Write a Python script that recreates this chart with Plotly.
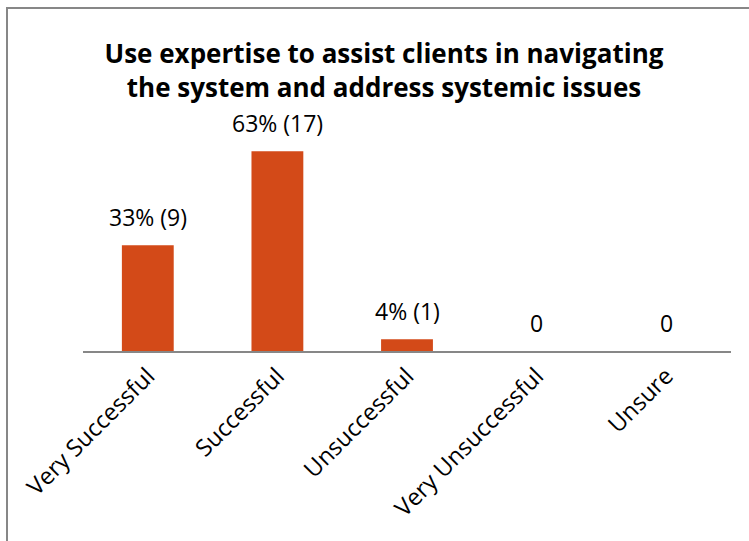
import plotly.graph_objects as go

# Survey responses
categories = ["Very Successful", "Successful", "Unsuccessful", "Very Unsuccessful", "Unsure"]
counts = [9, 17, 1, 0, 0]
percents = [33, 63, 4, 0, 0]

title_lines = ["Use expertise to assist clients in navigating",
               "the system and address systemic issues"]

BAR_COLOR = "#D34A18"
AXIS_COLOR = "#878787"
FONT = "Open Sans"

W, H = 749, 541
M_L, M_R, M_T, M_B = 83, 18, 116, 190

labels = [f"{p}% ({c})" if c > 0 else "0" for p, c in zip(percents, counts)]

fig = go.Figure(
    go.Bar(
        x=categories,
        y=counts,
        marker=dict(color=BAR_COLOR, line=dict(width=0)),
        hoverinfo="skip",
    )
)

for cat, val, lab in zip(categories, counts, labels):
    fig.add_annotation(
        x=cat, y=val, text=lab, showarrow=False,
        yanchor="bottom", yshift=10,
        font=dict(family=FONT, size=23, color="#000000"),
    )

# Chart frame
def px_x(px):
    return (px - M_L) / (W - M_L - M_R)

def px_y(py):
    return (H - M_B - py) / (H - M_T - M_B)

fig.add_shape(
    type="rect", xref="paper", yref="paper",
    x0=px_x(7), x1=px_x(760), y0=px_y(8), y1=px_y(560),
    line=dict(color=AXIS_COLOR, width=2), fillcolor="rgba(0,0,0,0)",
    layer="below",
)

fig.update_layout(
    width=W, height=H,
    margin=dict(l=M_L, r=M_R, t=M_T, b=M_B, pad=0),
    paper_bgcolor="white", plot_bgcolor="white",
    bargap=0.6,
    showlegend=False,
    title=dict(
        text="<br>".join(title_lines),
        xref="container", yref="container",
        x=384 / W, xanchor="center",
        y=1 - 63 / H, yanchor="middle",
        font=dict(family=FONT, size=26, color="#000000", weight="bold"),
    ),
    xaxis=dict(
        showline=True, linecolor=AXIS_COLOR, linewidth=2,
        showgrid=False, ticks="", tickangle=-45,
        tickfont=dict(family=FONT, size=23.5, color="#000000"),
        automargin=False, fixedrange=True,
    ),
    yaxis=dict(
        range=[0, 20], visible=False, showgrid=False, zeroline=False,
        fixedrange=True,
    ),
)

fig.write_html("out.html")
